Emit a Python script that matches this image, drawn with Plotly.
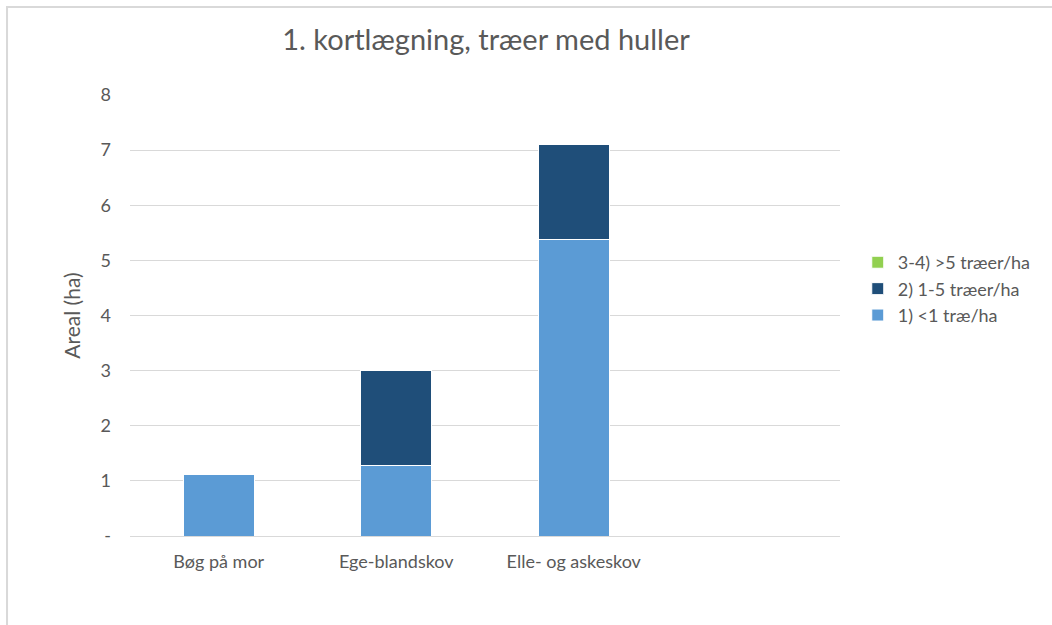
import plotly.graph_objects as go

categories = ["Bøg på mor", "Ege-blandskov", "Elle- og askeskov"]
s1_name = "1) <1 træ/ha"
s1_values = [1.11, 1.27, 5.37]
s2_name = "2) 1-5 træer/ha"
s2_values = [0.0, 1.74, 1.74]
s3_name = "3-4) >5 træer/ha"
s3_values = [0.0, 0.0, 0.0]
y_tickvals = [0, 1, 2, 3, 4, 5, 6, 7, 8]
y_ticktext = ["-", "1", "2", "3", "4", "5", "6", "7", "8"]

FONT = "Lato"
TXT = "#595959"

fig = go.Figure()
for name, vals, col in [(s1_name, s1_values, "#5B9BD5"),
                        (s2_name, s2_values, "#1F4E79"),
                        (s3_name, s3_values, "#92D050")]:
    fig.add_trace(go.Bar(x=categories, y=vals, name=name,
                         marker=dict(color=col, line=dict(color="white", width=1))))

fig.update_layout(
    width=1052, height=625,
    barmode="stack", bargap=0.6,
    paper_bgcolor="white", plot_bgcolor="white",
    margin=dict(l=130, r=212, t=95, b=89),
    title=dict(text="1. kortlægning, træer med huller", x=0.462, xanchor="center",
               y=0.936, yanchor="middle",
               font=dict(family=FONT, size=29, color=TXT)),
    font=dict(family=FONT, size=18, color=TXT),
    legend=dict(traceorder="reversed", x=1.025, xanchor="left", y=0.56, yanchor="middle",
                font=dict(family=FONT, size=18, color=TXT), itemwidth=30, tracegroupgap=0),
    xaxis=dict(range=[-0.5, 3.5], showgrid=False, showline=False, ticks="",
               ticklabelstandoff=13,
               tickfont=dict(family=FONT, size=18, color=TXT)),
    yaxis=dict(range=[0, 8], tickvals=y_tickvals, ticktext=y_ticktext,
               showgrid=True, gridcolor="#D9D9D9", gridwidth=1,
               zeroline=True, zerolinecolor="#D9D9D9", zerolinewidth=1,
               showline=False, ticks="", ticklen=0, ticklabelstandoff=18,
               tickfont=dict(family=FONT, size=18, color=TXT),
               title=dict(text="Areal (ha)", font=dict(family=FONT, size=21, color=TXT), standoff=14)),
    shapes=[dict(type="rect", xref="paper", yref="paper",
                 x0=-0.1732, x1=1.5, y0=-0.5, y1=1.1995,
                 line=dict(color="#D9D9D9", width=2), fillcolor="rgba(0,0,0,0)", layer="below")],
)

fig.write_html("out.html", config={"displayModeBar": False},
               post_script="document.body.style.margin='0';")
